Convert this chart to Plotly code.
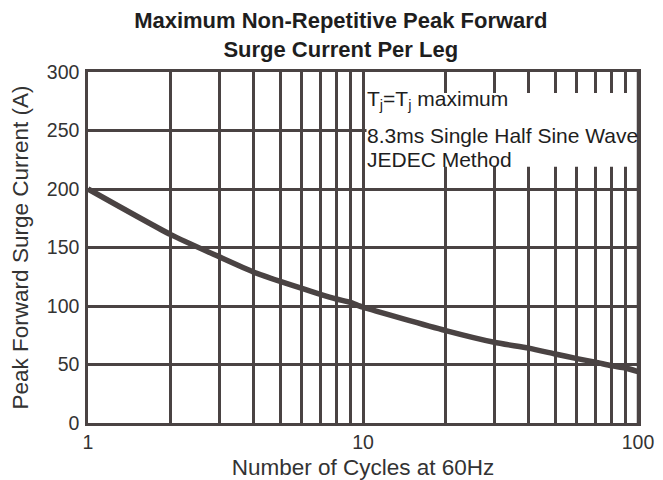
import plotly.graph_objects as go

# Data
cycles = [1, 2, 3, 4, 5, 6, 7, 8, 9, 10, 20, 30, 40, 50, 60, 70, 80, 90, 100]
surge_current = [200, 161, 142, 129, 121, 115, 110, 106, 103, 99, 79, 69, 64, 59, 55, 52, 49, 47, 44]

x_tickvals = [1, 10, 100]
x_ticktext = ["1", "10", "100"]
x_minor_gridvals = [2, 3, 4, 5, 6, 7, 8, 9, 20, 30, 40, 50, 60, 70, 80, 90]
y_tickvals = [0, 50, 100, 150, 200, 250, 300]

note_lines = ["T<sub>j</sub>=T<sub>j</sub> maximum", "8.3ms Single Half Sine Wave", "JEDEC Method"]

LINE = "#4a4343"
FONT = "Liberation Sans, Arial, sans-serif"

fig = go.Figure()
fig.add_trace(go.Scatter(
    x=cycles, y=surge_current, mode="lines",
    line=dict(color=LINE, width=5.5, shape="spline", smoothing=0.6),
    showlegend=False, hoverinfo="skip",
))

# white box behind the note (covers gridlines)
fig.add_shape(type="rect", xref="x", yref="y", x0=10.3, x1=99.4, y0=219, y1=282,
              fillcolor="white", line=dict(width=0), layer="above")
# redraw the right border over the box
fig.add_shape(type="line", xref="paper", yref="paper", x0=1, x1=1, y0=0, y1=1,
              line=dict(color=LINE, width=2.5), layer="above")

note_y = [0.920, 0.8205, 0.752]
for txt, yy in zip(note_lines, note_y):
    fig.add_annotation(x=1.007, xref="x", y=yy, yref="paper", text=txt, showarrow=False,
                       xanchor="left", yanchor="middle",
                       font=dict(family=FONT, size=21, color="#1e1e1e"))

fig.update_layout(
    width=655, height=472,
    margin=dict(l=80, r=25, t=64, b=57, autoexpand=False),
    paper_bgcolor="white", plot_bgcolor="white",
    font=dict(family=FONT, color="#333333"),
    title=dict(
        text="<b>Maximum Non-Repetitive Peak Forward<br>Surge Current Per Leg</b>",
        x=0.508, xref="container", xanchor="center",
        y=0.957, yref="container", yanchor="top",
        font=dict(family=FONT, size=22, color="#1e1e1e"),
    ),
)
fig.update_xaxes(
    type="log", range=[0, 2], automargin=False,
    tickmode="array", tickvals=x_tickvals, ticktext=x_ticktext,
    showgrid=True, gridcolor=LINE, gridwidth=2.5,
    minor=dict(tickmode="array", tickvals=x_minor_gridvals, showgrid=True,
               gridcolor=LINE, gridwidth=2.5, ticks=""),
    showline=True, linecolor=LINE, linewidth=2.5, mirror=True,
    ticks="", tickfont=dict(size=19.5, color="#333333"),
    title=dict(text="Number of Cycles at 60Hz", font=dict(size=22.5, color="#333333"), standoff=10),
    zeroline=False,
)
fig.update_yaxes(
    range=[0, 300], tickmode="array", tickvals=y_tickvals, automargin=False,
    showgrid=True, gridcolor=LINE, gridwidth=2.5,
    showline=True, linecolor=LINE, linewidth=2.5, mirror=True,
    ticks="", tickfont=dict(size=19.5, color="#333333"), ticklabelstandoff=2,
    title=dict(text="Peak Forward Surge Current (A)", font=dict(size=22.5, color="#333333"), standoff=14),
    zeroline=False,
)

fig.write_html("out.html")
